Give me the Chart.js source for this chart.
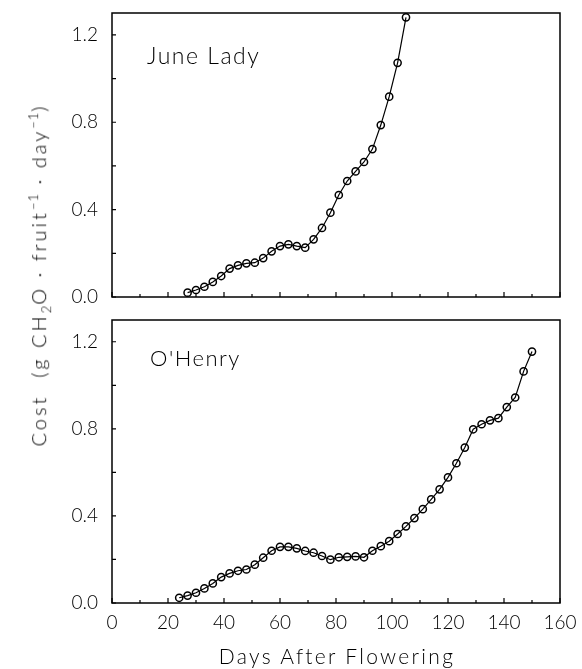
<!DOCTYPE html>
<html>
<head>
<meta charset="utf-8">
<script src="https://cdn.jsdelivr.net/npm/chart.js@4"></script>
<style>
  body { margin: 0; background: #fff; }
  #wrap { position: relative; width: 582px; height: 669px; overflow: hidden; font-family: Lato, "DejaVu Sans", sans-serif; font-weight: 300; color: #000; }
  canvas { position: absolute; left: 0; }
  #topChart { top: 0; }
  #bottomChart { top: 310px; }
  .txt { position: absolute; white-space: nowrap; line-height: 1; letter-spacing: 1.5px; }
  #yTitle { left: 40px; top: 275px; transform: translate(-50%, -50%) rotate(-90deg); font-size: 20px; letter-spacing: 3px; }
  #yTitle sub, #yTitle sup { font-size: 13px; letter-spacing: 1px; }
  #xTitle { left: 337px; top: 645px; transform: translateX(-50%); font-size: 21px; letter-spacing: 2.3px; }
</style>
</head>
<body>
<div id="wrap">
  <canvas id="topChart" width="582" height="310"></canvas>
  <canvas id="bottomChart" width="582" height="359"></canvas>
  <div class="txt" style="left:147px;top:44px;font-size:23px">June Lady</div>
  <div class="txt" style="left:150px;top:347px;font-size:22px">O'Henry</div>
  <div class="txt" id="yTitle">Cost&nbsp;&nbsp;(g CH<sub>2</sub>O · fruit<sup>−1</sup> · day<sup>−1</sup>)</div>
  <div class="txt" id="xTitle">Days After Flowering</div>
</div>
<script>
// June Lady
const juneDays = [27, 30, 33, 36, 39, 42, 45, 48, 51, 54, 57, 60, 63, 66, 69, 72, 75, 78, 81, 84, 87, 90, 93, 96, 99, 102, 105];
const juneCost = [0.02, 0.032, 0.047, 0.069, 0.096, 0.13, 0.145, 0.154, 0.157, 0.178, 0.209, 0.233, 0.241, 0.233, 0.226,
  0.264, 0.316, 0.386, 0.467, 0.531, 0.575, 0.618, 0.677, 0.787, 0.917, 1.072, 1.28];

// O'Henry
const henryDays = [24, 27, 30, 33, 36, 39, 42, 45, 48, 51, 54, 57, 60, 63, 66, 69, 72, 75, 78, 81, 84, 87, 90, 93, 96,
  99, 102, 105, 108, 111, 114, 117, 120, 123, 126, 129, 132, 135, 138, 141, 144, 147, 150];
const henryCost = [0.024, 0.034, 0.047, 0.067, 0.09, 0.119, 0.136, 0.148, 0.154, 0.176, 0.208, 0.24, 0.258, 0.258, 0.251,
  0.239, 0.231, 0.216, 0.199, 0.21, 0.212, 0.214, 0.21, 0.24, 0.261, 0.284, 0.317, 0.352, 0.39, 0.431, 0.476, 0.522,
  0.577, 0.642, 0.714, 0.798, 0.821, 0.839, 0.849, 0.9, 0.944, 1.064, 1.155];

// axes
const xMajor = [0, 20, 40, 60, 80, 100, 120, 140, 160];
const xMinor = [10, 30, 50, 70, 90, 110, 130, 150];
const yTicks = [0, 0.2, 0.4, 0.6, 0.8, 1.0, 1.2];
const yLabels = ['0.0', '', '0.4', '', '0.8', '', '1.2'];

const tickFont = { family: 'Lato, "DejaVu Sans", sans-serif', size: 19, weight: 300 };

// frame + inward tick marks
const frameTicks = {
  id: 'frameTicks',
  afterDraw(chart) {
    const { ctx, chartArea: a, scales: { x, y } } = chart;
    ctx.save();
    ctx.strokeStyle = '#000';
    ctx.lineWidth = 1.5;
    ctx.strokeRect(a.left, a.top, a.right - a.left, a.bottom - a.top);
    ctx.lineWidth = 1.2;
    ctx.beginPath();
    xMajor.forEach(v => {
      const px = x.getPixelForValue(v);
      ctx.moveTo(px, a.bottom); ctx.lineTo(px, a.bottom - 5);
    });
    xMinor.forEach(v => {
      const px = x.getPixelForValue(v);
      ctx.moveTo(px, a.bottom); ctx.lineTo(px, a.bottom - 3);
    });
    yTicks.forEach(v => {
      const py = y.getPixelForValue(v);
      ctx.moveTo(a.left, py); ctx.lineTo(a.left + 4, py);
    });
    ctx.stroke();
    ctx.restore();
  }
};

function makePanel(canvasId, days, cost, padTop, xHeight, showXLabels) {
  return new Chart(document.getElementById(canvasId), {
    type: 'line',
    data: {
      datasets: [{
        data: days.map((d, i) => ({ x: d, y: cost[i] })),
        borderColor: '#000',
        borderWidth: 1.2,
        tension: 0,
        pointStyle: 'circle',
        pointRadius: 3.6,
        pointBorderWidth: 1.5,
        pointBorderColor: '#000',
        pointBackgroundColor: 'rgba(0,0,0,0)'
      }]
    },
    options: {
      responsive: false,
      animation: false,
      plugins: { legend: { display: false }, tooltip: { enabled: false } },
      layout: { padding: { top: padTop, right: 22, left: 0, bottom: 0 } },
      scales: {
        x: {
          type: 'linear',
          min: 0, max: 160,
          grid: { display: false, drawTicks: false },
          border: { display: false },
          afterBuildTicks: s => { s.ticks = xMajor.map(v => ({ value: v })); },
          afterFit: s => { s.height = xHeight; s.paddingLeft = 0; s.paddingRight = 0; },
          ticks: { display: showXLabels, color: '#000', font: tickFont, padding: 8, maxRotation: 0 }
        },
        y: {
          min: 0, max: 1.3,
          grid: { display: false, drawTicks: false },
          border: { display: false },
          afterBuildTicks: s => { s.ticks = yTicks.map(v => ({ value: v })); },
          afterFit: s => { s.width = 112; s.paddingTop = 0; s.paddingBottom = 0; },
          ticks: {
            color: '#000', font: tickFont, padding: 14,
            callback: (v, i) => yLabels[i]
          }
        }
      }
    },
    plugins: [frameTicks]
  });
}

makePanel('topChart', juneDays, juneCost, 13, 13, false);
makePanel('bottomChart', henryDays, henryCost, 10, 66, true);
</script>
</body>
</html>
